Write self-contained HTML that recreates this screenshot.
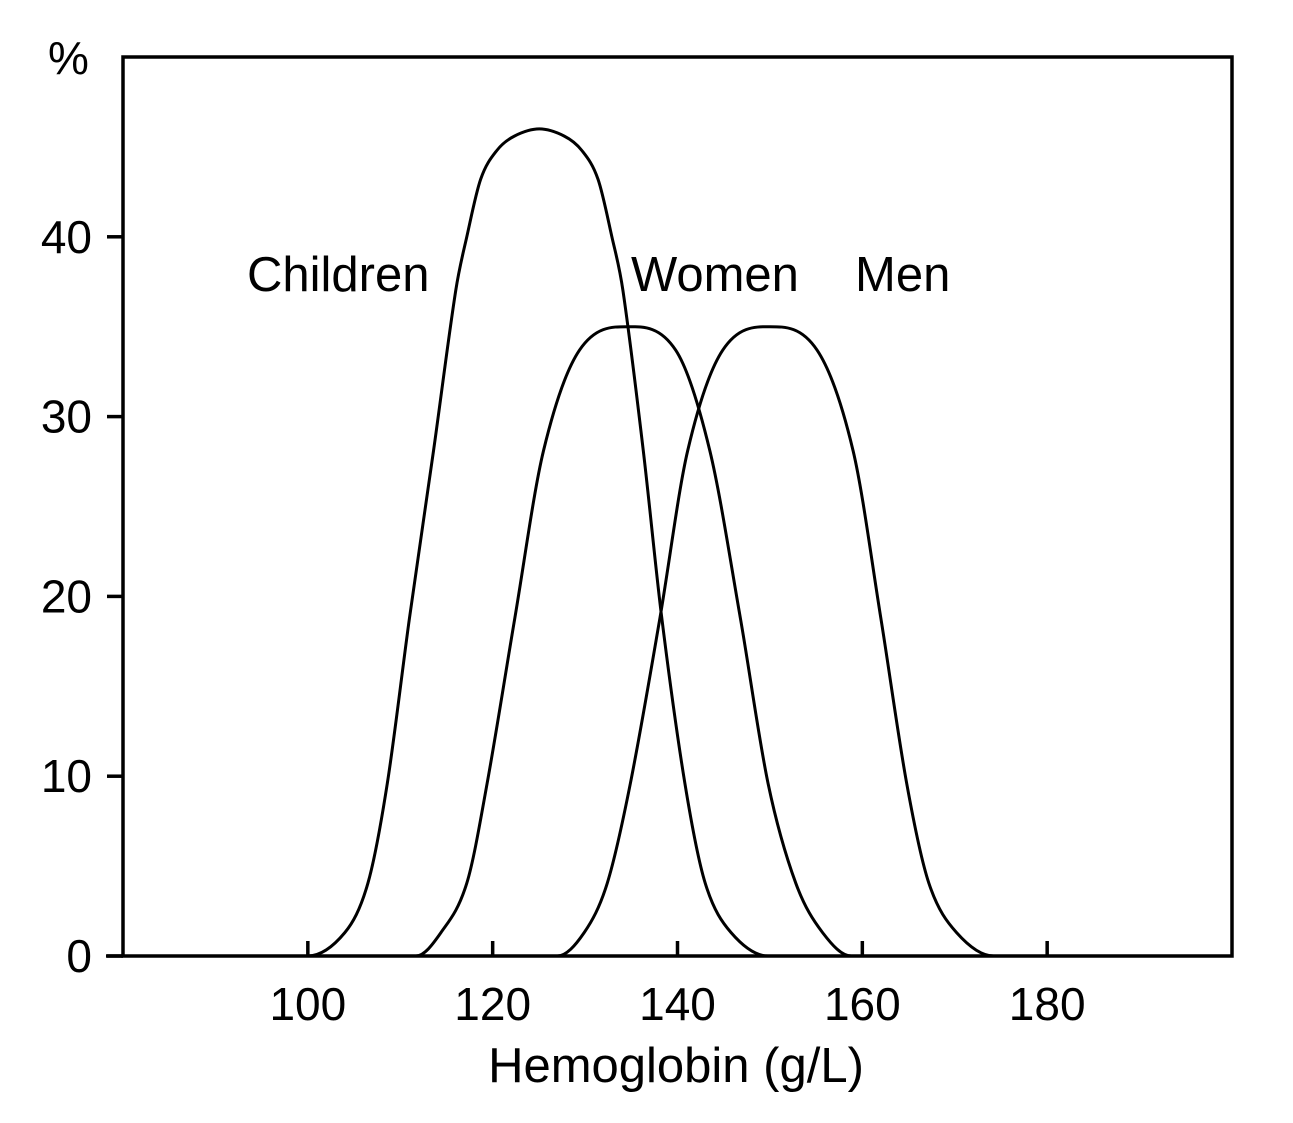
<!DOCTYPE html>
<html><head><meta charset="utf-8"><style>
html,body{margin:0;padding:0;background:#fff;}
svg{display:block;font-family:"Liberation Sans",Arial,sans-serif;}
</style></head><body>
<svg id="chart" width="1293" height="1123" viewBox="0 0 1293 1123"></svg>
<script>
const xTicks=[100,120,140,160,180];
const yTicks=[0,10,20,30,40];
const childrenX=[100,104,106.5,108.6,111,113.6,116,117.2,118.7,120.45,122.35,125.05,127.75,129.65,131.4,132.9,134.1,136.3,138.3,140.8,143,145.8,149.8];
const childrenY=[0,1.3,4.05,9.6,18.8,28.1,37,40,43.2,44.8,45.6,46,45.6,44.8,43.2,40,37,28.1,18.8,9.6,4.05,1.3,0];
const womenX=[111.7,114.4,117.2,119.4,122.4,125.5,129.4,134.6,139.8,143.5,146.8,149.8,152.8,155.7,158.8];
const womenY=[0,1.3,4.05,9.6,18.8,28.1,33.7,35,33.7,28.1,18.8,9.6,4.05,1.3,0];
const menX=[127,129.9,132.4,134.9,138.1,141.1,144.9,150,155.1,159,162,164.8,167.2,170.2,174.2];
const menY=[0,1.3,4.05,9.6,18.8,28.1,33.7,35,33.7,28.1,18.8,9.6,4.05,1.3,0];
const labels=[["Children",247,291],["Women",631,291],["Men",855,291]];
const L=123,R=1232,T=57,B=956;
const sx=v=>L+(v-80)/120*(R-L);
const sy=v=>B-v/50*(B-T);
const ns="http://www.w3.org/2000/svg";
const svg=document.getElementById('chart');
function mk(tag,attrs,parent){const e=document.createElementNS(ns,tag);for(const k in attrs)e.setAttribute(k,attrs[k]);(parent||svg).appendChild(e);return e;}
let e;
e=mk('rect',{x:L,y:T,width:R-L,height:B-T,fill:'none',stroke:'#000','stroke-width':3.5});


e=mk('line',{x1:106,y1:B,x2:L,y2:B,stroke:'#000','stroke-width':3.5});


yTicks.forEach(v=>{
  const t=mk('line',{x1:107,x2:L,y1:sy(v),y2:sy(v),stroke:'#000','stroke-width':3.5});
  
  
  const tx=mk('text',{x:92,y:sy(v)+16,'text-anchor':'end','font-size':46});
  tx.textContent=v;
  
  
});
xTicks.forEach(v=>{
  const t=mk('line',{x1:sx(v),x2:sx(v),y1:B-15,y2:B,stroke:'#000','stroke-width':3.5});
  
  
  const tx=mk('text',{x:sx(v),y:1020,'text-anchor':'middle','font-size':46});
  tx.textContent=v;
  
  
});
e=mk('text',{x:676,y:1082,'text-anchor':'middle','font-size':49});
e.textContent='Hemoglobin (g/L)';


e=mk('text',{x:48,y:74,'font-size':46});
e.textContent='%';


// cubic Hermite with three-point tangents, y as function of x
function path(xs,ys){
  const X=xs.map(sx),Y=ys.map(sy),n=X.length;
  const m=new Array(n);
  m[0]=0;m[n-1]=0;
  for(let i=1;i<n-1;i++) m[i]=(Y[i+1]-Y[i-1])/(X[i+1]-X[i-1]);
  let s='M'+X[0]+','+Y[0];
  for(let i=0;i<n-1;i++){
    const h=(X[i+1]-X[i])/3;
    s+=` C${X[i]+h},${Y[i]+m[i]*h} ${X[i+1]-h},${Y[i+1]-m[i+1]*h} ${X[i+1]},${Y[i+1]}`;
  }
  return s;
}
e=mk('path',{d:path(childrenX,childrenY),fill:'none',stroke:'#000','stroke-width':3});


e=mk('path',{d:path(womenX,womenY),fill:'none',stroke:'#000','stroke-width':3});


e=mk('path',{d:path(menX,menY),fill:'none',stroke:'#000','stroke-width':3});


labels.forEach(l=>{
  const t=mk('text',{x:l[1],y:l[2],'font-size':49});
  t.textContent=l[0];
  
  
});
</script>
</body></html>
